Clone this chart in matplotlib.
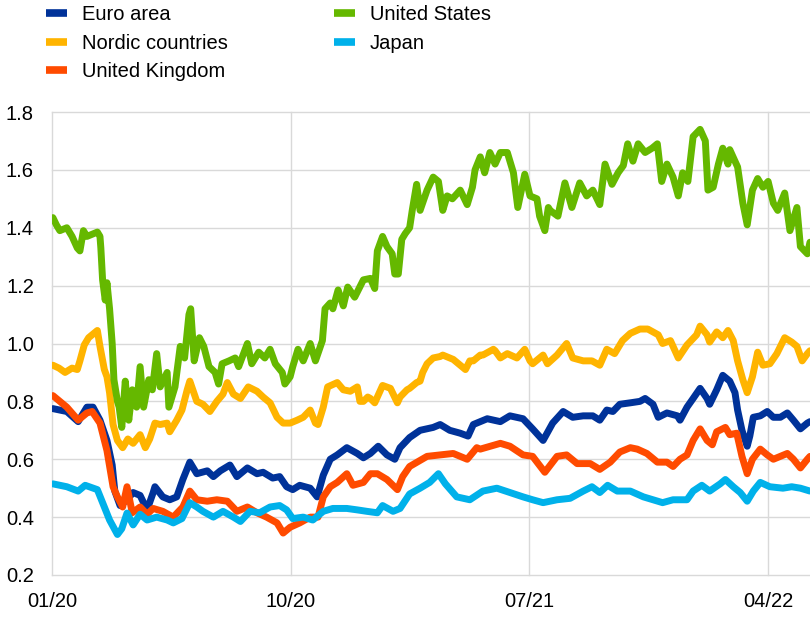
import matplotlib
matplotlib.use("Agg")
import matplotlib.pyplot as plt
import matplotlib.dates as mdates
import pandas as pd

plt.rcParams['font.family'] = ['Liberation Sans', 'DejaVu Sans']

START = pd.Timestamp('2020-01-01')
END_DAY = 869

# ---- data: day offsets from 2020-01-01 and values ----
us_days = [1, 5, 9, 17, 23, 29, 32, 36, 40, 44, 52, 55, 56, 58, 61, 63, 66, 69, 71, 75, 77, 80, 84, 88, 92, 97,
           101, 105, 111, 115, 120, 124, 132, 134, 141, 147, 152, 157, 159, 163, 169, 174, 180, 187, 191, 195,
           203, 210, 214, 224, 229, 237, 244, 250, 256, 264, 267, 273, 276, 282, 288, 296, 302, 310, 313, 319,
           322, 328, 334, 339, 347, 357, 365, 370, 373, 379, 384, 390, 393, 397, 401, 405, 410, 413, 418, 422,
           430, 437, 443, 448, 453, 459, 468, 476, 482, 485, 491, 496, 502, 508, 514, 522, 529, 534, 542, 548,
           556, 559, 565, 569, 571, 580, 588, 596, 605, 613, 620, 628, 634, 642, 649, 655, 660, 666, 672, 680,
           688, 694, 699, 705, 712, 718, 723, 729, 735, 743, 749, 752, 758, 764, 769, 775, 777, 786, 792, 797,
           803, 809, 815, 821, 827, 832, 840, 846, 854, 858, 866, 869]
us_vals = [1.435, 1.41, 1.39, 1.40, 1.37, 1.33, 1.32, 1.39, 1.37, 1.375, 1.385, 1.37, 1.33, 1.22, 1.15, 1.21, 1.12,
           1.00, 0.875, 0.80, 0.78, 0.71, 0.87, 0.735, 0.84, 0.78,
           0.92, 0.78, 0.875, 0.84, 0.965, 0.85, 0.90, 0.78, 0.85, 0.99, 0.95, 1.10, 1.12, 0.94, 1.02, 0.99, 0.92,
           0.90, 0.86, 0.93,
           0.94, 0.95, 0.92, 1.00, 0.93, 0.97, 0.95, 0.98, 0.93, 0.90, 0.86, 0.885, 0.92, 0.98, 0.94, 1.00, 0.94,
           1.01, 1.12, 1.14,
           1.12, 1.185, 1.13, 1.195, 1.16, 1.22, 1.225, 1.19, 1.32, 1.37, 1.335, 1.31, 1.24, 1.24, 1.36, 1.38,
           1.40, 1.46, 1.55, 1.46,
           1.53, 1.575, 1.56, 1.46, 1.51, 1.50, 1.53, 1.48, 1.54, 1.60, 1.645, 1.59, 1.66, 1.62, 1.66, 1.66,
           1.59, 1.47, 1.585, 1.51,
           1.50, 1.44, 1.39, 1.47, 1.46, 1.44, 1.555, 1.47, 1.555, 1.51, 1.53, 1.48, 1.62, 1.55, 1.59, 1.615,
           1.69, 1.63, 1.69, 1.66,
           1.675, 1.69, 1.56, 1.62, 1.575, 1.51, 1.59, 1.56, 1.715, 1.74, 1.70, 1.53, 1.54, 1.62, 1.675, 1.62,
           1.67, 1.61, 1.485, 1.41,
           1.53, 1.57, 1.54, 1.56, 1.485, 1.46, 1.52, 1.39, 1.47, 1.335, 1.31, 1.35]

nordic_days = [1, 8, 15, 23, 29, 32, 37, 42, 48, 52, 55, 60, 63, 66, 70, 75, 81, 87, 93, 101, 107, 112, 118, 124,
               132, 135, 143, 149, 155, 158, 166, 173, 181, 189, 196, 201, 208, 216, 225, 235, 242, 250, 258, 265,
               273, 281, 288, 296, 302, 305, 311, 316, 327, 334, 342, 350, 353, 357, 362, 365, 370, 376, 379, 388,
               396, 399, 407, 410, 418, 422, 425, 430, 437, 445, 448, 460, 474, 479, 483, 491, 494, 506, 508, 514,
               522, 533, 542, 548, 551, 559, 563, 568, 579, 590, 597, 609, 619, 628, 636, 645, 654, 663, 674, 683,
               695, 700, 709, 718, 728, 739, 743, 751, 754, 762, 769, 775, 781, 786, 792, 797, 803, 809, 815, 823,
               831, 840, 848, 854, 860, 866, 869]
nordic_vals = [0.925, 0.915, 0.90, 0.915, 0.91, 0.94, 0.995, 1.02, 1.035, 1.045, 0.99, 0.91, 0.885, 0.83, 0.72,
               0.665, 0.64, 0.67, 0.655, 0.685, 0.64, 0.67, 0.725, 0.72,
               0.725, 0.695, 0.735, 0.77, 0.84, 0.87, 0.80, 0.79, 0.765, 0.80, 0.825, 0.865, 0.825, 0.81, 0.85,
               0.835, 0.815, 0.795, 0.745, 0.725,
               0.725, 0.735, 0.745, 0.77, 0.725, 0.72, 0.78, 0.85, 0.865, 0.84, 0.835, 0.85, 0.80, 0.80, 0.815,
               0.81, 0.795, 0.835, 0.855, 0.845,
               0.795, 0.815, 0.84, 0.845, 0.865, 0.87, 0.90, 0.93, 0.95, 0.955, 0.96, 0.945, 0.91, 0.94, 0.94,
               0.96, 0.96, 0.98, 0.975, 0.95,
               0.965, 0.95, 0.98, 0.94, 0.93, 0.95, 0.96, 0.93, 0.96, 1.00, 0.95, 0.94, 0.94, 0.925, 0.98, 0.965,
               1.01, 1.035, 1.05, 1.05,
               1.03, 1.00, 1.01, 0.95, 0.995, 1.03, 1.06, 1.03, 1.005, 1.04, 1.02, 1.045, 1.01, 0.94, 0.875, 0.83,
               0.885, 0.97, 0.925, 0.93,
               0.965, 1.02, 1.005, 0.99, 0.94, 0.965, 0.975]

ea_days = [1, 17, 30, 40, 47, 55, 63, 69, 72, 78, 86, 93, 101, 109, 116, 118, 127, 135, 143, 150, 158, 166, 178,
           185, 193, 204, 212, 224, 235, 242, 253, 261, 269, 276, 284, 296, 304, 311, 319, 327, 338, 350, 357,
           365, 374, 384, 393, 399, 410, 422, 437, 445, 456, 468, 477, 483, 499, 514, 525, 540, 551, 563, 574,
           586, 597, 609, 620, 628, 636, 643, 651, 663, 674, 680, 689, 695, 705, 717, 720, 728, 735, 743, 751,
           754, 762, 769, 777, 783, 786, 791, 797, 800, 804, 812, 820, 827, 835, 843, 850, 858, 866, 869]
ea_vals = [0.775, 0.765, 0.73, 0.78, 0.78, 0.735, 0.665, 0.58, 0.49, 0.44, 0.46, 0.485, 0.475, 0.425, 0.485,
           0.505, 0.47, 0.46, 0.47, 0.53, 0.59, 0.55, 0.56,
           0.54, 0.56, 0.58, 0.54, 0.57, 0.55, 0.555, 0.535, 0.54, 0.505, 0.495, 0.51, 0.50, 0.47, 0.545, 0.60,
           0.615, 0.64, 0.62, 0.605,
           0.62, 0.645, 0.615, 0.60, 0.64, 0.675, 0.70, 0.71, 0.72, 0.70, 0.69, 0.68, 0.72, 0.74, 0.73, 0.75,
           0.74, 0.705, 0.665, 0.725,
           0.765, 0.745, 0.75, 0.75, 0.735, 0.77, 0.765, 0.79, 0.795, 0.80, 0.81, 0.79, 0.745, 0.76, 0.75, 0.735,
           0.78, 0.81, 0.845, 0.81,
           0.79, 0.84, 0.89, 0.87, 0.83, 0.77, 0.70, 0.645, 0.68, 0.745, 0.75, 0.765, 0.745, 0.745, 0.76, 0.735,
           0.705, 0.725, 0.73]

uk_days = [1, 17, 30, 40, 46, 55, 63, 70, 75, 81, 86, 92, 101, 109, 116, 127, 139, 150, 158, 166, 178, 189, 201,
           212, 224, 235, 246, 258, 265, 273, 284, 296, 305, 311, 319, 327, 338, 345, 357, 365, 373, 384, 396,
           402, 410, 430, 445, 460, 476, 487, 491, 514, 525, 540, 551, 565, 579, 590, 602, 617, 628, 640, 651,
           663, 671, 682, 694, 705, 712, 720, 728, 735, 743, 751, 757, 762, 772, 777, 785, 791, 797, 803, 812,
           820, 827, 843, 850, 858, 866, 869]
uk_vals = [0.82, 0.78, 0.735, 0.76, 0.765, 0.725, 0.63, 0.505, 0.47, 0.435, 0.505, 0.415, 0.435, 0.41, 0.43,
           0.42, 0.40, 0.435, 0.49, 0.46, 0.455, 0.46, 0.455,
           0.42, 0.435, 0.415, 0.40, 0.38, 0.345, 0.365, 0.38, 0.40, 0.40, 0.47, 0.505, 0.52, 0.55, 0.51, 0.52,
           0.55, 0.55, 0.53, 0.495,
           0.54, 0.575, 0.61, 0.615, 0.62, 0.60, 0.64, 0.635, 0.655, 0.645, 0.615, 0.61, 0.555, 0.61, 0.615,
           0.585, 0.585, 0.565, 0.59, 0.625,
           0.64, 0.635, 0.62, 0.59, 0.59, 0.575, 0.60, 0.615, 0.665, 0.705, 0.665, 0.65, 0.695, 0.71, 0.685,
           0.69, 0.61, 0.55, 0.60, 0.635,
           0.615, 0.60, 0.62, 0.60, 0.57, 0.60, 0.61]

jp_days = [1, 17, 30, 38, 52, 58, 66, 75, 80, 86, 93, 101, 109, 120, 132, 139, 149, 158, 166, 173, 185, 196, 208,
           216, 227, 238, 250, 261, 269, 276, 288, 299, 311, 322, 338, 350, 361, 373, 379, 391, 399, 410, 422,
           433, 443, 451, 464, 479, 494, 510, 525, 540, 551, 563, 579, 594, 609, 619, 628, 637, 648, 663, 678,
           689, 700, 712, 728, 735, 745, 754, 766, 772, 781, 789, 797, 804, 812, 823, 838, 848, 858, 869]
jp_vals = [0.515, 0.505, 0.49, 0.51, 0.495, 0.45, 0.39, 0.34, 0.36, 0.414, 0.373, 0.41, 0.39, 0.40, 0.39, 0.38,
           0.395, 0.45, 0.435, 0.42, 0.40, 0.42, 0.40,
           0.385, 0.42, 0.415, 0.435, 0.44, 0.425, 0.395, 0.40, 0.39, 0.42, 0.43, 0.43, 0.425, 0.42, 0.415,
           0.44, 0.42, 0.43, 0.48, 0.50,
           0.52, 0.55, 0.515, 0.47, 0.46, 0.49, 0.50, 0.485, 0.47, 0.46, 0.45, 0.46, 0.465, 0.49, 0.505, 0.485,
           0.51, 0.49, 0.49, 0.47,
           0.46, 0.45, 0.46, 0.46, 0.49, 0.51, 0.49, 0.515, 0.53, 0.505, 0.485, 0.455, 0.49, 0.52, 0.505, 0.50,
           0.505, 0.50, 0.49]

series = [
    ("Euro area", ea_days, ea_vals, "#003299"),
    ("Nordic countries", nordic_days, nordic_vals, "#FFB400"),
    ("United Kingdom", uk_days, uk_vals, "#FF4B00"),
    ("United States", us_days, us_vals, "#65B800"),
    ("Japan", jp_days, jp_vals, "#00B1EA"),
]

tick_dates = ['2020-01-01', '2020-10-01', '2021-07-01', '2022-04-01']
y_ticks = [0.2, 0.4, 0.6, 0.8, 1.0, 1.2, 1.4, 1.6, 1.8]

W, H = 810, 617
fig = plt.figure(figsize=(W / 100, H / 100), dpi=100)
ax = fig.add_axes([52 / W, 42 / H, 1 - 52 / W, 463 / H])

for name, d, v, c in series:
    dates = START + pd.to_timedelta(d, unit='D')
    ax.plot(dates, v, color=c, lw=5.0, label=name,
            solid_joinstyle='round', solid_capstyle='round')

ax.set_xlim(START, START + pd.Timedelta(days=END_DAY))
ax.set_ylim(0.2, 1.8)
ax.set_xticks(pd.to_datetime(tick_dates))
ax.xaxis.set_major_formatter(mdates.DateFormatter('%m/%y'))
ax.set_yticks(y_ticks)
ax.yaxis.set_major_formatter(matplotlib.ticker.FormatStrFormatter('%.1f'))

ax.grid(True, color='#d9d9d9', linewidth=1.0)
ax.set_axisbelow(True)
for ln in ax.get_xgridlines() + ax.get_ygridlines():
    ln.set_clip_on(False)
for s in ax.spines.values():
    s.set_visible(False)
ax.tick_params(axis='both', length=0, labelsize=14.5, colors='#000000')
ax.tick_params(axis='y', pad=13)
ax.tick_params(axis='x', pad=12)

handles, labels = ax.get_legend_handles_labels()
fig.legend(handles, labels, ncol=2, loc='upper left', bbox_to_anchor=(46 / W, 1 - 5 / H),
           frameon=False, fontsize=14.5, handlelength=1.05, handletextpad=0.75,
           columnspacing=5.25, labelspacing=0.48, borderpad=0, borderaxespad=0)
for lh in fig.legends[0].get_lines():
    lh.set_linewidth(5.5)
    lh.set_solid_capstyle('butt')

fig.savefig('out.png', dpi=100)
